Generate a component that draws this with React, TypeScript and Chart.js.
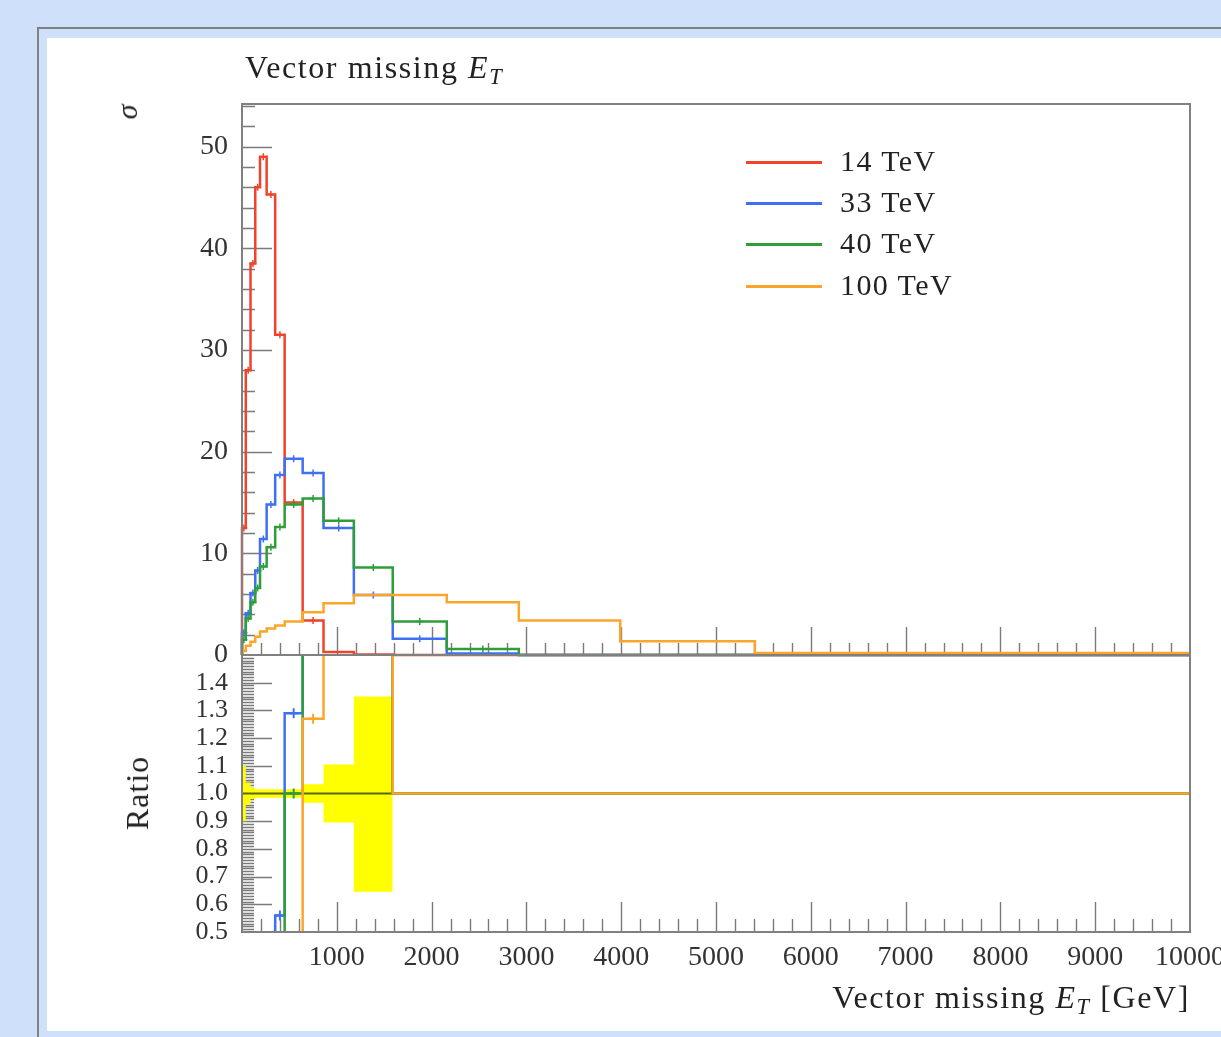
import React, { useEffect, useRef } from "react";
import { Chart, registerables } from "chart.js";

Chart.register(...registerables);

// ---------------- data ----------------
const binEdges = [0, 40, 90, 140, 190, 260, 350, 450, 640, 860, 1180, 1590, 2160, 2920, 3990, 5410, 10000];
const seriesLabels = ["14 TeV", "33 TeV", "40 TeV", "100 TeV"];
const sigma14 = [12.5, 28, 38.5, 46, 49, 45.3, 31.5, 15, 3.4, 0.3, 0.05, 0, 0, 0, 0, 0];
const sigma33 = [2.2, 4.1, 6.1, 8.3, 11.4, 14.8, 17.7, 19.3, 17.9, 12.5, 5.9, 1.6, 0.15, 0, 0, 0];
const sigma40 = [1.5, 3.6, 5.2, 6.6, 8.7, 10.6, 12.6, 14.8, 15.4, 13.2, 8.6, 3.3, 0.6, 0, 0, 0];
const sigma100 = [0.4, 0.9, 1.3, 1.8, 2.3, 2.6, 2.9, 3.3, 4.2, 5.1, 5.9, 5.9, 5.2, 3.4, 1.35, 0.2];
const ratio33 = [0.18, 0.15, 0.16, 0.18, 0.23, 0.33, 0.56, 1.29, 5.3, 42, 118, 1, 1, 1, 1, 1];
const ratio40 = [0.12, 0.13, 0.14, 0.14, 0.18, 0.23, 0.4, 1.0, 4.5, 44, 172, 1, 1, 1, 1, 1];
const ratio100 = [0.03, 0.03, 0.03, 0.04, 0.05, 0.06, 0.09, 0.22, 1.27, 17, 118, 1, 1, 1, 1, 1];
const ratioBandLow = [0.9, 0.96, 0.98, 0.985, 0.985, 0.985, 0.985, 0.985, 0.967, 0.895, 0.645];
const ratioBandHigh = [1.1, 1.04, 1.02, 1.015, 1.015, 1.015, 1.015, 1.015, 1.033, 1.105, 1.35];
const ratioUnity = [1, 1, 1, 1, 1, 1, 1, 1, 1, 1, 1];
const xTickValues = [1000, 2000, 3000, 4000, 5000, 6000, 7000, 8000, 9000, 10000];
const sigmaTickValues = [0, 10, 20, 30, 40, 50];
const ratioTickValues = [0.5, 0.6, 0.7, 0.8, 0.9, 1.0, 1.1, 1.2, 1.3, 1.4];

// ---------------- styles / layout ----------------
const W = 1221;
const H = 1037;
const PLOT_L = 242;
const PLOT_R = 1190;
const MAIN_T = 104;
const MAIN_B = 655;
const RATIO_B = 932;
const X_AXIS_H = 60;
const COLORS = ["#f0432c", "#3f6ff5", "#2e9e3a", "#fba62a"];
const FONT = "'Liberation Serif', 'DejaVu Serif', serif";

function histPoints(vals: number[], fromBaseline: boolean) {
  const pts = vals.map((v, i) => ({ x: binEdges[i], y: v }));
  pts.push({ x: binEdges[vals.length], y: vals[vals.length - 1] });
  if (fromBaseline) pts.unshift({ x: binEdges[0], y: 0 });
  return pts;
}

function centerPoints(vals: number[], keep: (v: number, i: number) => boolean) {
  return vals
    .map((v, i) => ({ x: (binEdges[i] + binEdges[i + 1]) / 2, y: v, i }))
    .filter((p) => keep(p.y, p.i))
    .map((p) => ({ x: p.x, y: p.y }));
}

type AxisCfg = {
  yStart: number;
  yStep: number;
  yCount: number;
  yMajorEvery: number;
  yMajorLen: number;
  yMinorLen: number;
  xMajorLen: number;
  xMinorLen: number;
};

function axisPlugin(cfg: AxisCfg) {
  return {
    id: "insideTicks",
    beforeDatasetsDraw(chart: any) {
      const { ctx, chartArea: a, scales } = chart;
      const xs = scales.x;
      const ys = scales.y;
      ctx.save();
      ctx.strokeStyle = "#7a7a7a";
      ctx.lineWidth = 1.4;
      ctx.beginPath();
      for (let i = 1; i < cfg.yCount; i++) {
        const v = cfg.yStart + i * cfg.yStep;
        const y = Math.round(ys.getPixelForValue(v)) + 0.5;
        const len = i % cfg.yMajorEvery === 0 ? cfg.yMajorLen : cfg.yMinorLen;
        ctx.moveTo(a.left, y);
        ctx.lineTo(a.left + len, y);
      }
      for (let i = 1; i < 50; i++) {
        const v = i * 200;
        const x = Math.round(xs.getPixelForValue(v)) + 0.5;
        const len = i % 5 === 0 ? cfg.xMajorLen : cfg.xMinorLen;
        ctx.moveTo(x, a.bottom);
        ctx.lineTo(x, a.bottom - len);
      }
      ctx.stroke();
      ctx.restore();
    },
    afterDatasetsDraw(chart: any) {
      const { ctx, chartArea: a } = chart;
      ctx.save();
      ctx.strokeStyle = "#808080";
      ctx.lineWidth = 2;
      ctx.strokeRect(a.left, a.top, a.right - a.left, a.bottom - a.top);
      ctx.restore();
    },
  };
}

export default function App() {
  const mainCanvasRef = useRef<HTMLCanvasElement | null>(null);
  const ratioCanvasRef = useRef<HTMLCanvasElement | null>(null);

  useEffect(() => {
    const sigmas = [sigma14, sigma33, sigma40, sigma100];
    const ratios = [ratio33, ratio40, ratio100];

    const mainDatasets: any[] = sigmas.map((vals, k) => ({
      type: "line",
      label: seriesLabels[k],
      data: histPoints(vals, true),
      stepped: "before",
      borderColor: COLORS[k],
      borderWidth: 2.5,
      pointRadius: 0,
      fill: false,
      order: 10 - k,
      clip: 2,
    }));
    [0, 1, 2].forEach((k) => {
      mainDatasets.push({
        type: "line",
        label: seriesLabels[k] + " err",
        data: centerPoints(sigmas[k], (v) => v > 0.5),
        showLine: false,
        pointStyle: "cross",
        pointRadius: 3.5,
        pointBorderWidth: 1.5,
        borderColor: COLORS[k],
        backgroundColor: COLORS[k],
        order: 10 - k,
      });
    });

    const mainChart = new Chart(mainCanvasRef.current as HTMLCanvasElement, {
      type: "line",
      data: { datasets: mainDatasets },
      options: {
        animation: false,
        responsive: false,
        devicePixelRatio: 1,
        layout: { padding: { left: 0, top: MAIN_T, right: W - PLOT_R, bottom: H - MAIN_B } },
        plugins: { legend: { display: false }, tooltip: { enabled: false } },
        scales: {
          x: { type: "linear", min: 0, max: 10000, display: false },
          y: {
            type: "linear",
            min: 0,
            max: 54.2,
            afterFit: (s: any) => {
              s.width = PLOT_L;
              s.paddingTop = 0;
              s.paddingBottom = 0;
            },
            afterBuildTicks: (s: any) => {
              s.ticks = sigmaTickValues.map((v) => ({ value: v }));
            },
            grid: { display: false, drawTicks: false },
            border: { display: false },
            ticks: {
              padding: 14,
              autoSkip: false,
              color: "#333",
              font: { family: FONT, size: 28 },
              callback: (v: any) => String(v),
            },
          },
        },
      } as any,
      plugins: [
        axisPlugin({
          yStart: 0,
          yStep: 2,
          yCount: 28,
          yMajorEvery: 5,
          yMajorLen: 30,
          yMinorLen: 13,
          xMajorLen: 28,
          xMinorLen: 12,
        }),
      ],
    });

    const ratioDatasets: any[] = [
      {
        type: "line",
        label: "band high",
        data: histPoints(ratioBandHigh, false),
        stepped: "before",
        borderWidth: 0,
        borderColor: "rgba(0,0,0,0)",
        pointRadius: 0,
        fill: "+1",
        backgroundColor: "#ffff00",
        order: 30,
      },
      {
        type: "line",
        label: "band low",
        data: histPoints(ratioBandLow, false),
        stepped: "before",
        borderWidth: 0,
        borderColor: "rgba(0,0,0,0)",
        pointRadius: 0,
        fill: false,
        order: 31,
      },
      {
        type: "line",
        label: "14 TeV ratio",
        data: histPoints(ratioUnity, false),
        stepped: "before",
        borderWidth: 2,
        borderColor: "#5a6716",
        pointRadius: 0,
        fill: false,
        order: 20,
      },
    ];
    ratios.forEach((vals, j) => {
      const k = j + 1;
      ratioDatasets.push({
        type: "line",
        label: seriesLabels[k] + " ratio",
        data: histPoints(vals, false),
        stepped: "before",
        borderColor: COLORS[k],
        borderWidth: 2.5,
        pointRadius: 0,
        fill: false,
        order: 10 - k,
        clip: 1,
      });
      ratioDatasets.push({
        type: "line",
        label: seriesLabels[k] + " ratio err",
        data: centerPoints(vals, (v, i) => v >= 0.5 && v <= 1.5 && i < ratioBandLow.length),
        showLine: false,
        pointStyle: "cross",
        pointRadius: 5,
        pointBorderWidth: 2,
        borderColor: COLORS[k],
        backgroundColor: COLORS[k],
        order: 10 - k,
      });
    });

    const ratioChart = new Chart(ratioCanvasRef.current as HTMLCanvasElement, {
      type: "line",
      data: { datasets: ratioDatasets },
      options: {
        animation: false,
        responsive: false,
        devicePixelRatio: 1,
        layout: {
          padding: { left: 0, top: MAIN_B, right: W - PLOT_R, bottom: H - RATIO_B - X_AXIS_H },
        },
        plugins: { legend: { display: false }, tooltip: { enabled: false } },
        scales: {
          x: {
            type: "linear",
            min: 0,
            max: 10000,
            afterFit: (s: any) => {
              s.height = X_AXIS_H;
              s.paddingLeft = 0;
              s.paddingRight = 0;
            },
            afterBuildTicks: (s: any) => {
              s.ticks = xTickValues.map((v) => ({ value: v }));
            },
            grid: { display: false, drawTicks: false },
            border: { display: false },
            ticks: {
              padding: 9,
              maxRotation: 0,
              autoSkip: false,
              color: "#333",
              font: { family: FONT, size: 28 },
              callback: (v: any) => String(v),
            },
          },
          y: {
            type: "linear",
            min: 0.5,
            max: 1.5,
            afterFit: (s: any) => {
              s.width = PLOT_L;
              s.paddingTop = 0;
              s.paddingBottom = 0;
            },
            afterBuildTicks: (s: any) => {
              s.ticks = ratioTickValues.map((v) => ({ value: v }));
            },
            grid: { display: false, drawTicks: false },
            border: { display: false },
            ticks: {
              padding: 14,
              autoSkip: false,
              color: "#333",
              font: { family: FONT, size: 26 },
              callback: (v: any) => Number(v).toFixed(1),
            },
          },
        },
      } as any,
      plugins: [
        axisPlugin({
          yStart: 0.5,
          yStep: 0.01,
          yCount: 100,
          yMajorEvery: 10,
          yMajorLen: 30,
          yMinorLen: 12,
          xMajorLen: 30,
          xMinorLen: 13,
        }),
      ],
    });

    return () => {
      mainChart.destroy();
      ratioChart.destroy();
    };
  }, []);

  const abs: React.CSSProperties = { position: "absolute" };
  const legendRows = [162, 203, 244, 286];

  return (
    <div
      style={{
        position: "absolute",
        left: 0,
        top: 0,
        width: W,
        height: H,
        overflow: "hidden",
        background: "#cfe1fa",
        fontFamily: FONT,
        color: "#222",
      }}
    >
      <div
        style={{
          ...abs,
          left: 37,
          top: 27,
          width: W,
          height: H,
          border: "2px solid #808080",
          boxSizing: "border-box",
          background: "#cfe1fa",
        }}
      />
      <div style={{ ...abs, left: 47, top: 38, width: W - 47, height: 1031 - 38, background: "#ffffff" }} />

      <canvas
        ref={mainCanvasRef}
        width={W}
        height={H}
        style={{ ...abs, left: 0, top: 0, width: W, height: H }}
      />
      <canvas
        ref={ratioCanvasRef}
        width={W}
        height={H}
        style={{ ...abs, left: 0, top: 0, width: W, height: H }}
      />

      <div
        style={{
          ...abs,
          left: 245,
          top: 51,
          fontSize: 32,
          lineHeight: 1,
          whiteSpace: "nowrap",
          letterSpacing: 1.6,
        }}
      >
        Vector missing <i>E</i>
        <sub style={{ fontSize: "70%", fontStyle: "italic", verticalAlign: "-0.25em" }}>T</sub>
      </div>

      <div
        style={{
          ...abs,
          right: W - PLOT_R,
          top: 981,
          fontSize: 32,
          lineHeight: 1,
          whiteSpace: "nowrap",
          letterSpacing: 1.6,
        }}
      >
        Vector missing <i>E</i>
        <sub style={{ fontSize: "70%", fontStyle: "italic", verticalAlign: "-0.25em" }}>T</sub> [GeV]
      </div>

      <div
        style={{
          ...abs,
          left: 127,
          top: 112,
          fontSize: 30,
          fontStyle: "italic",
          lineHeight: 1,
          transform: "translate(-50%, -50%) rotate(-90deg)",
        }}
      >
        σ
      </div>
      <div
        style={{
          ...abs,
          left: 137,
          top: 793,
          fontSize: 32,
          lineHeight: 1,
          whiteSpace: "nowrap",
          letterSpacing: 1,
          transform: "translate(-50%, -50%) rotate(-90deg)",
        }}
      >
        Ratio
      </div>

      {seriesLabels.map((lab, k) => (
        <React.Fragment key={lab}>
          <div
            style={{
              ...abs,
              left: 746,
              top: legendRows[k] - 1,
              width: 76,
              height: 2.5,
              background: COLORS[k],
            }}
          />
          <div
            style={{
              ...abs,
              left: 840,
              top: legendRows[k] - 16,
              fontSize: 30,
              lineHeight: 1,
              whiteSpace: "nowrap",
              letterSpacing: 1.4,
            }}
          >
            {lab}
          </div>
        </React.Fragment>
      ))}
    </div>
  );
}
